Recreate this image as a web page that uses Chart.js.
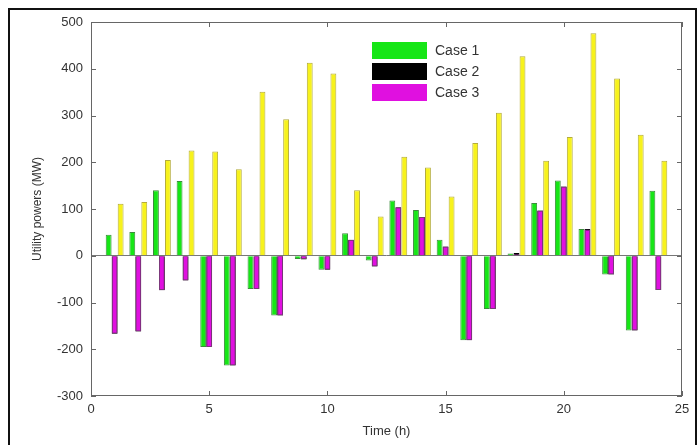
<!DOCTYPE html>
<html>
<head>
<meta charset="utf-8">
<script src="https://cdn.jsdelivr.net/npm/chart.js@4"></script>
<style>
  html, body { margin: 0; padding: 0; background: #fff; }
  #wrap { position: relative; width: 700px; height: 445px; overflow: hidden; }
  #frame { position: absolute; left: 8px; top: 8px; width: 689px; height: 460px; border: 2px solid #111; box-sizing: border-box; pointer-events: none; }
  canvas { position: absolute; left: 0; top: 0; }
</style>
</head>
<body>
<div id="wrap">
  <canvas id="chart" width="700" height="445"></canvas>
  <div id="frame"></div>
</div>
<script>
// Datos
const hours = [1, 2, 3, 4, 5, 6, 7, 8, 9, 10, 11, 12, 13, 14, 15, 16, 17, 18, 19, 20, 21, 22, 23, 24];
const case1 = [45, 51, 140, 160, -195, -235, -71, -128, -7, -30, 48, -10, 118, 98, 34, -181, -114, 5, 113, 161, 57, -40, -160, 139];
const case2 = [-167, -162, -74, -53, -195, -235, -71, -128, -8, -30, 34, -23, 104, 83, 20, -181, -114, 6, 97, 148, 57, -40, -160, -73];
const case3 = [-167, -162, -74, -53, -195, -235, -71, -128, -7, -30, 34, -23, 104, 83, 20, -181, -114, 3, 97, 148, 56, -40, -160, -73];
const yellowSeries = [111, 115, 205, 225, 223, 185, 351, 292, 413, 390, 140, 84, 212, 189, 127, 241, 306, 427, 203, 254, 476, 379, 259, 203];
const xTicks = [0, 5, 10, 15, 20, 25];
const yTicks = [-300, -200, -100, 0, 100, 200, 300, 400, 500];

const pts = vals => hours.map((h, i) => ({ x: h, y: vals[i] }));
const fontFam = '"Liberation Sans", Arial, sans-serif';

// Leyenda y marcas de ejes estilo MATLAB
const matlabLook = {
  id: 'matlabLook',
  afterDraw(chart) {
    const { ctx, chartArea: a, scales: { x, y } } = chart;
    ctx.save();
    ctx.strokeStyle = '#666';
    ctx.lineWidth = 1;
    ctx.strokeRect(a.left + 0.5, a.top + 0.5, a.right - a.left - 1, a.bottom - a.top - 1);
    ctx.beginPath();
    xTicks.forEach(v => {
      const px = Math.round(x.getPixelForValue(v)) + 0.5;
      ctx.moveTo(px, a.bottom); ctx.lineTo(px, a.bottom - 5);
      ctx.moveTo(px, a.top); ctx.lineTo(px, a.top + 5);
    });
    yTicks.forEach(v => {
      const py = Math.round(y.getPixelForValue(v)) + 0.5;
      ctx.moveTo(a.left, py); ctx.lineTo(a.left + 5, py);
      ctx.moveTo(a.right, py); ctx.lineTo(a.right - 5, py);
    });
    ctx.stroke();

    // leyenda
    const legendSets = chart.data.datasets.filter(d => d.inLegend);
    ctx.font = '14px ' + fontFam;
    ctx.textBaseline = 'middle';
    legendSets.forEach((d, i) => {
      const bx = 372, by = 42 + i * 21;
      ctx.fillStyle = d.backgroundColor;
      ctx.fillRect(bx, by, 55, 17);
      ctx.fillStyle = '#333';
      ctx.fillText(d.label, bx + 63, by + 9);
    });
    ctx.restore();
  }
};

new Chart(document.getElementById('chart'), {
  type: 'bar',
  data: {
    datasets: [
      { label: 'Case 1', inLegend: true, stack: 'a', order: 0, data: pts(case1), backgroundColor: '#16e616', borderColor: '#3c8c3c', borderWidth: 1 },
      { label: 'Case 2', inLegend: true, stack: 'b', order: 1, data: pts(case2), backgroundColor: '#000000', borderColor: '#000000', borderWidth: 1 },
      { label: 'Case 3', inLegend: true, stack: 'b', order: 0, data: pts(case3), backgroundColor: '#e010e0', borderColor: '#7a3a7a', borderWidth: 1 },
      { label: 'Load', inLegend: false, stack: 'c', order: 0, data: pts(yellowSeries), backgroundColor: '#f7f21c', borderColor: '#b4ac3c', borderWidth: 1 }
    ]
  },
  options: {
    responsive: false,
    animation: false,
    layout: { padding: { top: 22, right: 18, left: 30, bottom: 0 } },
    categoryPercentage: 0.76,
    barPercentage: 0.98,
    plugins: { legend: { display: false }, tooltip: { enabled: false } },
    scales: {
      x: {
        type: 'linear', min: 0, max: 25, offset: false,
        border: { display: false },
        grid: { display: false, drawTicks: false },
        ticks: { stepSize: 5, padding: 6, color: '#333', font: { size: 13, family: fontFam } },
        title: { display: true, text: 'Time (h)', color: '#333', padding: { top: 0, bottom: 6 }, font: { size: 13, family: fontFam } },
        afterFit(s) { s.height = 49; }
      },
      y: {
        min: -300, max: 500, stacked: false,
        border: { display: false },
        grid: { drawTicks: false, color: c => c.tick && c.tick.value === 0 ? '#777' : 'transparent' },
        ticks: { stepSize: 100, padding: 8, color: '#333', font: { size: 13, family: fontFam } },
        title: { display: true, text: 'Utility powers (MW)', color: '#333', padding: { top: 0, bottom: 0 }, font: { size: 12, family: fontFam } },
        afterFit(s) { s.width = 61; }
      }
    }
  },
  plugins: [matlabLook]
});
</script>
</body>
</html>
